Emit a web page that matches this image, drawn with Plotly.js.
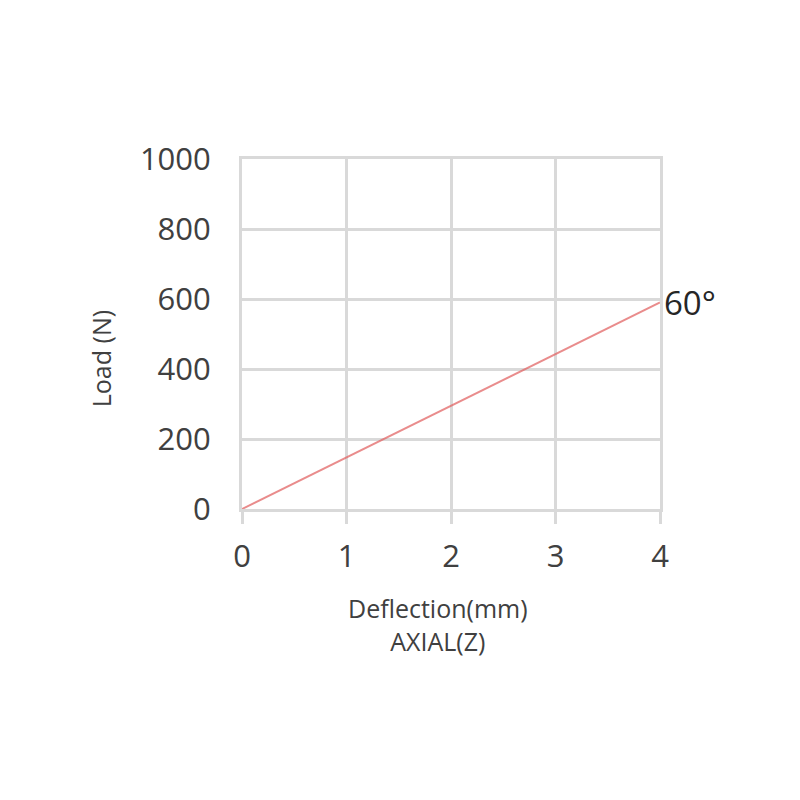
<!DOCTYPE html>
<html><head><meta charset="utf-8">
<script src="https://cdn.plot.ly/plotly-3.0.1.min.js"></script>
<style>body{margin:0;background:#fff}#c{width:800px;height:800px}</style>
</head><body><div id="c"></div>
<script>
const deflection = [0, 1, 2, 3, 4];
const load60 = [0, 148, 296, 443, 590];
const seriesName = "60°";
const xTicks = [0, 1, 2, 3, 4];
const yTicks = [0, 200, 400, 600, 800, 1000];
const xTitle = "Deflection(mm)<br>AXIAL(Z)";
const yTitle = "Load (N)";

const trace = {
  x: deflection, y: load60, mode: "lines", type: "scatter",
  line: {color: "rgba(225,95,95,0.72)", width: 2},
  hoverinfo: "skip"
};
const fontFam = "Open Sans, sans-serif";
const grid = "#d9d9d9";
const layout = {
  width: 800, height: 800,
  margin: {l: 242, r: 140, t: 159, b: 291},
  paper_bgcolor: "#fff", plot_bgcolor: "#fff",
  showlegend: false,
  font: {family: fontFam, color: "#404040"},
  xaxis: {
    range: [0, 4], tickvals: xTicks, ticktext: xTicks.map(String),
    showgrid: true, gridcolor: grid, gridwidth: 3,
    zeroline: false, showline: true, linecolor: grid, linewidth: 3, mirror: true,
    ticks: "outside", ticklen: 12, tickwidth: 3, tickcolor: grid,
    tickfont: {size: 31, color: "#404040", family: fontFam},
    ticklabelstandoff: 6,
    fixedrange: true
  },
  yaxis: {
    range: [0, 1000], tickvals: yTicks, ticktext: yTicks.map(String),
    showgrid: true, gridcolor: grid, gridwidth: 3,
    zeroline: false, showline: true, linecolor: grid, linewidth: 3, mirror: true,
    ticks: "", tickfont: {size: 31, color: "#404040", family: fontFam},
    ticklabelstandoff: 22,
    fixedrange: true
  },
  annotations: [
    {x: 4, y: load60[4], xref: "x", yref: "y", text: seriesName, showarrow: false,
     xanchor: "left", yanchor: "middle", xshift: 2,
     font: {size: 33, color: "#262626", family: fontFam}},
    {x: 0.47, y: -0.228, xref: "paper", yref: "paper", text: xTitle, showarrow: false,
     xanchor: "center", yanchor: "top", font: {size: 25, color: "#404040", family: fontFam}},
    {x: -0.338, y: 0.43, xref: "paper", yref: "paper", text: yTitle, showarrow: false,
     textangle: -90, xanchor: "center", yanchor: "middle", font: {size: 25, color: "#404040", family: fontFam}}
  ]
};
Plotly.newPlot("c", [trace], layout, {staticPlot: true, displayModeBar: false});
</script></body></html>
